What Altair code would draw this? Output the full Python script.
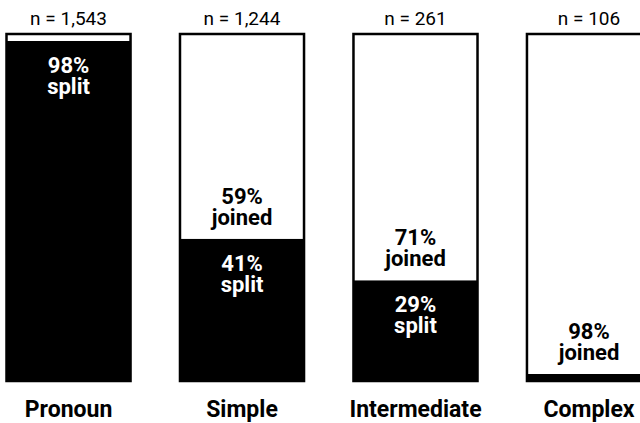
import altair as alt
import pandas as pd

categories = ["Pronoun", "Simple", "Intermediate", "Complex"]
n_values = [1543, 1244, 261, 106]
split_pct = [98, 41, 29, 2]
joined_pct = [2, 59, 71, 98]

BOLD_FONT = "Roboto"
REG_FONT = "Roboto"

seg_rows = []
for c, s, j in zip(categories, split_pct, joined_pct):
    seg_rows.append({"category": c, "segment": "split", "y0": 0, "y1": s})
    seg_rows.append({"category": c, "segment": "joined", "y0": s, "y1": s + j})
seg_df = pd.DataFrame(seg_rows)

cat_df = pd.DataFrame({
    "category": categories,
    "nlabel": [f"n = {n:,}" for n in n_values],
    "split": split_pct,
    "joined": joined_pct,
    "total": [s + j for s, j in zip(split_pct, joined_pct)],
})

split_lab = pd.DataFrame([
    {"category": c, "pos": s, "label": f"{s}%\nsplit"}
    for c, s in zip(categories, split_pct) if s >= 10
])
joined_lab = pd.DataFrame([
    {"category": c, "pos": s, "label": f"{j}%\njoined"}
    for c, s, j in zip(categories, split_pct, joined_pct) if j >= 10
])

x_enc = alt.X(
    "category:N",
    sort=categories,
    scale=alt.Scale(range=[6.5, 651], paddingInner=0.285, paddingOuter=0),
    axis=None,
)
y_scale = alt.Scale(domain=[0, 100], range=[381, 34])

segments = alt.Chart(seg_df).mark_bar(clip=True, stroke=None).encode(
    x=x_enc,
    y=alt.Y("y0:Q", scale=y_scale, axis=None),
    y2="y1:Q",
    color=alt.Color(
        "segment:N",
        scale=alt.Scale(domain=["split", "joined"], range=["#000000", "#ffffff"]),
        legend=None,
    ),
)

outline = alt.Chart(cat_df).mark_bar(
    clip=True, fillOpacity=0, stroke="#000000", strokeWidth=2.5
).encode(
    x=x_enc,
    y=alt.Y("total:Q", scale=y_scale, axis=None),
    y2=alt.datum(0),
)

split_text = alt.Chart(split_lab).mark_text(
    baseline="alphabetic", dy=32, color="white", font=BOLD_FONT, fontWeight="bold",
    fontSize=22, lineBreak="\n", lineHeight=21,
).encode(
    x=x_enc,
    y=alt.Y("pos:Q", scale=y_scale, axis=None),
    text="label:N",
)

joined_text = alt.Chart(joined_lab).mark_text(
    baseline="alphabetic", dy=-35, color="black", font=BOLD_FONT, fontWeight="bold",
    fontSize=22, lineBreak="\n", lineHeight=21,
).encode(
    x=x_enc,
    y=alt.Y("pos:Q", scale=y_scale, axis=None),
    text="label:N",
)

n_text = alt.Chart(cat_df).mark_text(
    baseline="alphabetic", color="black", font=REG_FONT, fontSize=19,
).encode(
    x=x_enc,
    y=alt.value(25),
    text="nlabel:N",
)

cat_text = alt.Chart(cat_df).mark_text(
    baseline="alphabetic", color="black", font=BOLD_FONT, fontWeight="bold", fontSize=23,
).encode(
    x=x_enc,
    y=alt.value(417),
    text="category:N",
)

chart = alt.layer(segments, outline, split_text, joined_text, n_text, cat_text).properties(
    width=640, height=423, autosize=alt.AutoSizeParams(type="none"), padding=0,
    background="white",
).configure_view(stroke=None)

chart.save("out.html", embed_options={"renderer": "svg", "actions": False})
